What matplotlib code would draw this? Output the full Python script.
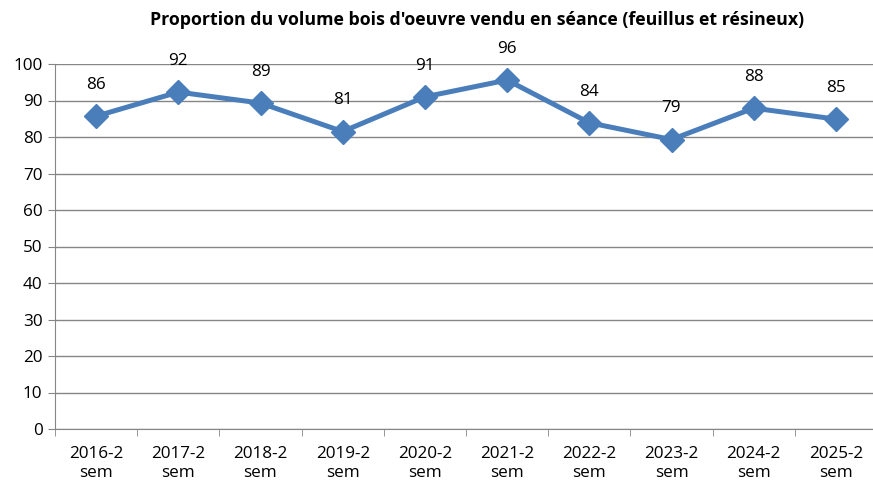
import matplotlib
matplotlib.use("Agg")
import matplotlib.pyplot as plt

categories = ["2016-2\nsem", "2017-2\nsem", "2018-2\nsem", "2019-2\nsem", "2020-2\nsem",
              "2021-2\nsem", "2022-2\nsem", "2023-2\nsem", "2024-2\nsem", "2025-2\nsem"]
values = [85.7, 92.3, 89.3, 81.5, 91.0, 95.6, 83.9, 79.3, 87.9, 84.9]
labels = ["86", "92", "89", "81", "91", "96", "84", "79", "88", "85"]

plt.rcParams['font.family'] = ['Open Sans', 'DejaVu Sans']

fig = plt.figure(figsize=(8.73, 4.82), dpi=100)
ax = fig.add_axes([55/873, 1-429/482, 822/873, 365/482])

xs = list(range(len(values)))
ax.plot(xs, values, color="#4A7EBB", lw=3.6, marker="D", markersize=12, zorder=3)
for x, v, t in zip(xs, values, labels):
	ax.annotate(t, (x, v), xytext=(0, 22.5), textcoords="offset points",
				ha="center", va="center", fontsize=12.3)

ax.set_xlim(-0.5, len(values) - 0.5)
ax.set_ylim(0, 100)
ax.set_yticks(range(0, 101, 10))
ax.set_xticks(xs)
ax.set_xticklabels(categories, fontsize=12.3, linespacing=1.28)
ax.set_xticks([x + 0.5 for x in range(-1, len(values))], minor=True)
ax.tick_params(axis="x", which="major", length=0, pad=12)
ax.tick_params(axis="x", which="minor", length=5, color="#868686")
ax.tick_params(axis="y", length=5, color="#868686", labelsize=12.3, pad=4)

ax.grid(axis="y", color="#868686", lw=1)
ax.set_axisbelow(True)
for s in ["top", "right"]:
	ax.spines[s].set_visible(False)
for s in ["left", "bottom"]:
	ax.spines[s].set_color("#868686")

fig.text(477/873, 1-20/482, "Proportion du volume bois d'oeuvre vendu en séance (feuillus et résineux)",
		 ha="center", va="center", fontsize=12.8, fontweight="bold")

fig.savefig("out.png", dpi=100)
